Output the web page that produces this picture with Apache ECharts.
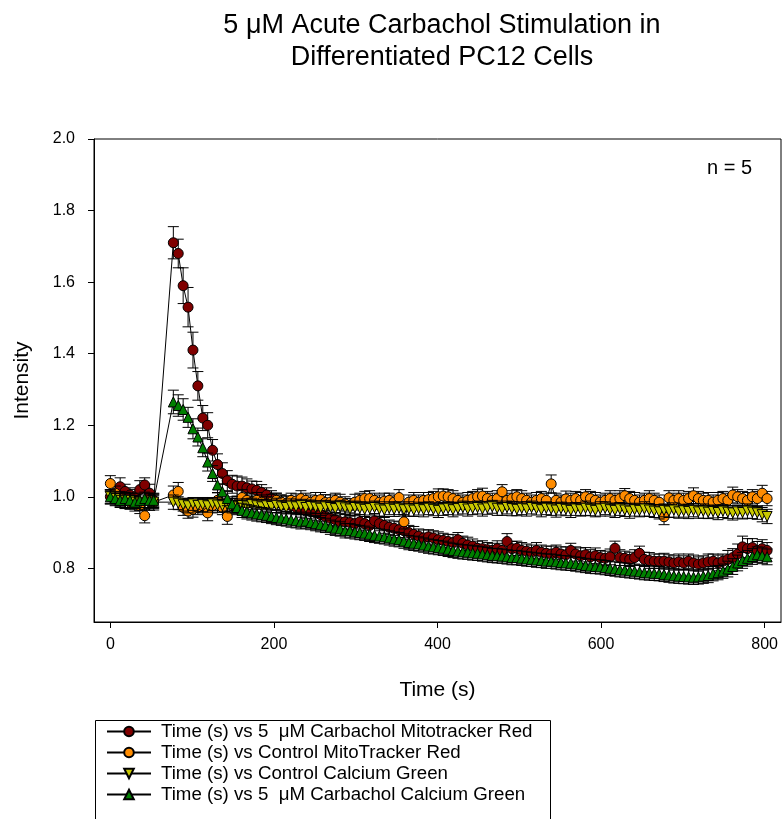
<!DOCTYPE html>
<html>
<head>
<meta charset="utf-8">
<script src="https://cdn.jsdelivr.net/npm/echarts@6/dist/echarts.min.js"></script>
<style>html,body{margin:0;padding:0;background:#fff}#c{width:783px;height:819px}</style>
</head>
<body>
<div id="c"></div>
<script>
// ---- data ----
const times = [0,6,12,18,24,30,36,42,48,53,
77,83,89,95,101,107,113,119,125,131,
137,143,149,155,161,167,173,179,185,191,
197,203,209,215,221,227,233,239,245,251,
257,263,269,275,281,287,293,299,305,311,
317,323,329,335,341,347,353,359,365,371,
377,383,389,395,401,407,413,419,425,431,
437,443,449,455,461,467,473,479,485,491,
497,503,509,515,521,527,533,539,545,551,
557,563,569,575,581,587,593,599,605,611,
617,623,629,635,641,647,653,659,665,671,
677,683,689,695,701,707,713,719,725,731,
737,743,749,755,761,767,773,779,785,791,
797,803];

const carbMito = [1.00,1.01,1.028,1.015,1.005,1.00,1.02,1.033,1.01,0.99,
1.71,1.68,1.59,1.53,1.41,1.31,1.22,1.20,1.13,1.09,
1.065,1.045,1.035,1.03,1.03,1.025,1.022,1.018,1.012,1.005,
0.995,0.99,0.985,0.98,0.975,0.97,0.965,0.96,0.958,0.955,
0.95,0.945,0.94,0.936,0.93,0.93,0.928,0.925,0.93,0.925,
0.92,0.933,0.925,0.92,0.915,0.912,0.908,0.905,0.90,0.895,
0.89,0.885,0.888,0.885,0.88,0.878,0.875,0.872,0.88,0.87,
0.865,0.862,0.856,0.855,0.852,0.85,0.855,0.85,0.875,0.855,
0.856,0.85,0.848,0.845,0.85,0.845,0.842,0.84,0.845,0.84,
0.838,0.85,0.84,0.835,0.838,0.832,0.835,0.83,0.828,0.832,
0.856,0.83,0.828,0.825,0.83,0.842,0.825,0.822,0.82,0.82,
0.82,0.818,0.815,0.818,0.815,0.82,0.815,0.812,0.815,0.818,
0.82,0.815,0.82,0.825,0.83,0.84,0.86,0.855,0.858,0.85,
0.855,0.85];
const carbMitoErr = [0.02,0.02,0.025,0.02,0.02,0.02,0.025,0.02,0.025,0.02,
0.045,0.04,0.05,0.055,0.05,0.04,0.035,0.035,0.03,0.03,
0.03,0.028,0.025,0.028,0.025,0.025,0.022,0.025,0.022,0.02,
0.022,0.02,0.02,0.022,0.02,0.02,0.022,0.02,0.02,0.022,
0.02,0.022,0.02,0.02,0.022,0.02,0.02,0.022,0.02,0.02,
0.022,0.02,0.02,0.022,0.02,0.02,0.022,0.02,0.02,0.022,
0.02,0.022,0.02,0.02,0.022,0.02,0.02,0.022,0.02,0.02,
0.022,0.02,0.02,0.022,0.02,0.02,0.022,0.02,0.022,0.02,
0.02,0.022,0.02,0.02,0.022,0.02,0.02,0.022,0.02,0.02,
0.022,0.02,0.02,0.022,0.02,0.02,0.022,0.02,0.02,0.022,
0.02,0.022,0.02,0.02,0.022,0.02,0.02,0.022,0.02,0.02,
0.022,0.02,0.02,0.022,0.02,0.02,0.022,0.02,0.02,0.022,
0.02,0.022,0.02,0.025,0.025,0.028,0.03,0.028,0.025,0.025,
0.025,0.022];

const ctrlMito = [1.037,1.01,0.995,0.99,0.985,0.98,0.975,0.947,0.99,0.985,
1.005,1.015,0.97,0.96,0.965,0.97,0.975,0.955,0.975,0.99,
0.97,0.945,0.975,0.98,0.998,0.99,0.985,0.99,0.985,0.98,
0.985,0.99,0.985,0.98,0.99,0.988,0.995,0.99,0.985,0.99,
0.992,0.984,0.985,0.99,0.985,0.98,0.975,0.985,0.99,0.995,
0.995,0.99,0.985,0.988,0.99,0.985,0.998,0.93,0.985,0.99,
0.985,0.99,0.992,0.995,1.0,1.002,1.0,0.995,0.99,0.985,
0.99,0.995,1.0,1.002,0.995,0.99,0.995,1.014,0.99,0.995,
1.0,0.995,0.99,0.985,0.99,0.995,0.99,1.036,0.99,0.985,
0.994,0.99,0.995,0.99,1.0,0.995,0.99,0.985,0.99,0.995,
0.99,0.995,1.003,0.995,0.99,0.985,0.99,0.995,0.99,0.985,
0.944,0.997,0.99,0.995,0.99,0.995,1.003,0.995,0.99,0.99,
0.985,0.99,0.995,0.99,1.005,1.0,0.995,0.99,1.0,0.995,
1.01,0.995];
const ctrlMitoErr = [0.022,0.02,0.02,0.022,0.02,0.02,0.022,0.02,0.02,0.022,
0.025,0.025,0.022,0.02,0.022,0.02,0.02,0.022,0.02,0.022,
0.02,0.022,0.02,0.02,0.022,0.02,0.02,0.022,0.02,0.02,
0.022,0.02,0.02,0.022,0.02,0.02,0.022,0.02,0.02,0.022,
0.02,0.022,0.02,0.02,0.022,0.02,0.02,0.022,0.02,0.02,
0.022,0.02,0.02,0.022,0.02,0.02,0.022,0.02,0.02,0.022,
0.02,0.022,0.02,0.02,0.022,0.02,0.02,0.022,0.02,0.02,
0.022,0.02,0.02,0.022,0.02,0.02,0.022,0.02,0.02,0.022,
0.02,0.022,0.02,0.02,0.022,0.02,0.02,0.025,0.02,0.02,
0.022,0.02,0.02,0.022,0.02,0.02,0.022,0.02,0.02,0.022,
0.02,0.022,0.02,0.02,0.022,0.02,0.02,0.022,0.02,0.02,
0.022,0.02,0.02,0.022,0.02,0.02,0.022,0.02,0.02,0.022,
0.02,0.022,0.02,0.02,0.022,0.02,0.02,0.022,0.02,0.02,
0.022,0.02];

const ctrlCalc = [1.0,0.995,0.99,0.985,0.99,0.985,0.98,0.985,0.98,0.985,
0.985,0.982,0.978,0.975,0.98,0.976,0.978,0.975,0.98,0.977,
0.975,0.978,0.975,0.972,0.976,0.974,0.978,0.975,0.972,0.975,
0.973,0.976,0.972,0.97,0.974,0.972,0.975,0.97,0.973,0.971,
0.968,0.972,0.97,0.967,0.972,0.969,0.966,0.97,0.968,0.965,
0.967,0.97,0.966,0.963,0.968,0.965,0.968,0.964,0.966,0.963,
0.967,0.964,0.968,0.965,0.962,0.966,0.968,0.964,0.967,0.97,
0.966,0.968,0.97,0.966,0.969,0.972,0.968,0.966,0.97,0.967,
0.965,0.968,0.966,0.97,0.967,0.964,0.968,0.966,0.963,0.967,
0.965,0.962,0.966,0.964,0.968,0.965,0.962,0.966,0.968,0.964,
0.962,0.966,0.963,0.96,0.964,0.962,0.966,0.963,0.96,0.958,
0.962,0.96,0.963,0.958,0.961,0.959,0.962,0.958,0.96,0.957,
0.959,0.956,0.96,0.957,0.955,0.958,0.956,0.96,0.957,0.955,
0.95,0.945];
const ctrlCalcErr = [0.018,0.02,0.018,0.018,0.02,0.018,0.018,0.02,0.018,0.018,
0.02,0.018,0.018,0.02,0.018,0.018,0.02,0.018,0.018,0.02,
0.018,0.018,0.02,0.018,0.018,0.02,0.018,0.018,0.02,0.018,
0.018,0.02,0.018,0.018,0.02,0.018,0.018,0.02,0.018,0.018,
0.02,0.018,0.018,0.02,0.018,0.018,0.02,0.018,0.018,0.02,
0.018,0.018,0.02,0.018,0.018,0.02,0.018,0.018,0.02,0.018,
0.018,0.02,0.018,0.018,0.02,0.018,0.018,0.02,0.018,0.018,
0.02,0.018,0.018,0.02,0.018,0.018,0.02,0.018,0.018,0.02,
0.018,0.018,0.02,0.018,0.018,0.02,0.018,0.018,0.02,0.018,
0.018,0.02,0.018,0.018,0.02,0.018,0.018,0.02,0.018,0.018,
0.02,0.018,0.018,0.02,0.018,0.018,0.02,0.018,0.018,0.02,
0.018,0.018,0.02,0.018,0.018,0.02,0.018,0.018,0.02,0.018,
0.018,0.02,0.018,0.018,0.02,0.018,0.018,0.02,0.018,0.018,
0.02,0.02];

const carbCalc = [1.0,0.995,0.99,0.995,0.99,0.985,0.99,0.995,0.99,0.99,
1.265,1.255,1.244,1.222,1.19,1.167,1.137,1.097,1.065,1.033,
1.014,0.995,0.98,0.97,0.962,0.958,0.955,0.952,0.95,0.948,
0.945,0.942,0.94,0.938,0.935,0.933,0.93,0.932,0.928,0.925,
0.922,0.92,0.915,0.912,0.91,0.905,0.905,0.902,0.90,0.898,
0.895,0.892,0.89,0.888,0.885,0.882,0.88,0.876,0.872,0.87,
0.868,0.865,0.862,0.86,0.858,0.856,0.853,0.85,0.848,0.846,
0.845,0.843,0.842,0.84,0.838,0.836,0.835,0.834,0.832,0.83,
0.83,0.828,0.826,0.825,0.823,0.822,0.82,0.82,0.818,0.816,
0.815,0.814,0.812,0.81,0.808,0.806,0.805,0.804,0.802,0.80,
0.798,0.796,0.795,0.793,0.792,0.79,0.788,0.787,0.786,0.785,
0.783,0.781,0.779,0.778,0.777,0.776,0.775,0.776,0.778,0.78,
0.785,0.788,0.792,0.798,0.805,0.815,0.822,0.828,0.833,0.838,
0.835,0.832];
const carbCalcErr = [0.02,0.018,0.02,0.018,0.02,0.018,0.02,0.018,0.02,0.018,
0.033,0.03,0.03,0.028,0.028,0.025,0.025,0.025,0.022,0.022,
0.022,0.02,0.02,0.02,0.02,0.02,0.02,0.02,0.02,0.02,
0.02,0.02,0.02,0.02,0.02,0.02,0.02,0.02,0.02,0.02,
0.02,0.02,0.02,0.02,0.02,0.02,0.02,0.02,0.02,0.02,
0.02,0.02,0.02,0.02,0.02,0.02,0.02,0.02,0.02,0.02,
0.02,0.02,0.02,0.02,0.02,0.02,0.02,0.02,0.02,0.02,
0.02,0.02,0.02,0.02,0.02,0.02,0.02,0.02,0.02,0.02,
0.02,0.02,0.02,0.02,0.02,0.02,0.02,0.02,0.02,0.02,
0.02,0.02,0.02,0.02,0.02,0.02,0.02,0.02,0.02,0.02,
0.02,0.02,0.02,0.02,0.02,0.02,0.02,0.02,0.02,0.02,
0.02,0.02,0.02,0.02,0.02,0.02,0.02,0.02,0.02,0.02,
0.02,0.02,0.02,0.022,0.022,0.022,0.022,0.022,0.022,0.022,
0.022,0.022];

const seriesNames = [
  'Time (s) vs 5  \u03bcM Carbachol Mitotracker Red',
  'Time (s) vs Control MitoTracker Red',
  'Time (s) vs Control Calcium Green',
  'Time (s) vs 5  \u03bcM Carbachol Calcium Green'
];
const xTicks = [0, 200, 400, 600, 800];
const yTicks = [0.8, 1.0, 1.2, 1.4, 1.6, 1.8, 2.0];

// ---- chart ----
const FONT = '"Liberation Sans", Arial, sans-serif';
const chart = echarts.init(document.getElementById('c'), null, {renderer: 'canvas'});

const defs = [
  {name: seriesNames[0], vals: carbMito, errs: carbMitoErr, color: '#800000', symbol: 'circle', size: 10, rot: 0},
  {name: seriesNames[1], vals: ctrlMito, errs: ctrlMitoErr, color: '#FF8C00', symbol: 'circle', size: 10, rot: 0},
  {name: seriesNames[2], vals: ctrlCalc, errs: ctrlCalcErr, color: '#C8C800', symbol: 'triangle', size: 10, rot: 180},
  {name: seriesNames[3], vals: carbCalc, errs: carbCalcErr, color: '#008000', symbol: 'triangle', size: 10, rot: 0}
];

function errRender(params, api) {
  const x = api.value(0), y = api.value(1), e = api.value(2);
  const top = api.coord([x, y + e]);
  const bot = api.coord([x, y - e]);
  const hw = 5.5;
  const st = {stroke: '#000', lineWidth: 1};
  return {
    type: 'group',
    children: [
      {type: 'line', shape: {x1: top[0], y1: top[1], x2: bot[0], y2: bot[1]}, style: st},
      {type: 'line', shape: {x1: top[0] - hw, y1: top[1], x2: top[0] + hw, y2: top[1]}, style: st},
      {type: 'line', shape: {x1: bot[0] - hw, y1: bot[1], x2: bot[0] + hw, y2: bot[1]}, style: st}
    ]
  };
}

const series = [];
defs.forEach((d, k) => {
  series.push({
    type: 'custom',
    name: d.name + ' err',
    renderItem: errRender,
    data: times.map((t, i) => [t, d.vals[i], d.errs[i]]),
    z: 2 + k * 2,
    silent: true,
    clip: true
  });
  series.push({
    type: 'line',
    name: d.name,
    data: times.map((t, i) => [t, d.vals[i]]),
    symbol: d.symbol,
    symbolSize: d.size,
    symbolRotate: d.rot,
    showAllSymbol: true,
    itemStyle: {color: d.color, borderColor: '#000', borderWidth: 1},
    lineStyle: {color: '#000', width: 1},
    z: 3 + k * 2,
    silent: true
  });
});

chart.setOption({
  animation: false,
  backgroundColor: '#fff',
  title: {
    text: '5 \u03bcM Acute Carbachol Stimulation in\nDifferentiated PC12 Cells',
    left: 437, textAlign: 'center', top: 5,
    textStyle: {fontFamily: FONT, fontSize: 27, fontWeight: 'normal', color: '#000', lineHeight: 32}
  },
  grid: {left: 94, right: 2, top: 139, bottom: 197, show: true, borderColor: '#000', borderWidth: 1, backgroundColor: 'transparent'},
  xAxis: {
    type: 'value', min: -20, max: 820,
    name: 'Time (s)', nameLocation: 'middle', nameGap: 58,
    nameTextStyle: {fontFamily: FONT, fontSize: 21, color: '#000'},
    axisLine: {show: true, onZero: false, lineStyle: {color: '#000', width: 1}},
    axisTick: {show: true, inside: false, length: 6, lineStyle: {color: '#000'}, customValues: xTicks},
    axisLabel: {fontFamily: FONT, fontSize: 16, color: '#000', margin: 15, customValues: xTicks},
    splitLine: {show: false}
  },
  yAxis: {
    type: 'value', min: 0.65, max: 2.0,
    name: 'Intensity', nameLocation: 'middle', nameGap: 61, nameRotate: 90,
    nameTextStyle: {fontFamily: FONT, fontSize: 21, color: '#000'},
    axisLine: {show: true, onZero: false, lineStyle: {color: '#000', width: 1}},
    axisTick: {show: true, inside: false, length: 6, lineStyle: {color: '#000'}, customValues: yTicks},
    axisLabel: {fontFamily: FONT, fontSize: 16, color: '#000', margin: 19, customValues: yTicks,
      formatter: v => v.toFixed(1)},
    splitLine: {show: false}
  },
  legend: {
    orient: 'vertical', left: 106, top: 722, padding: 0,
    itemWidth: 44, itemHeight: 12, itemGap: 2,
    data: seriesNames,
    textStyle: {fontFamily: FONT, fontSize: 18.7, lineHeight: 18, color: '#000', padding: [0, 0, 0, 5]},
    selectedMode: false
  },
  graphic: [
    {type: 'rect', left: 93, top: 718, shape: {width: 455, height: 100},
      style: {fill: 'none', stroke: '#000', lineWidth: 1}, silent: true},
    {type: 'text', left: 707, top: 158,
      style: {text: 'n = 5', font: '20px "Liberation Sans", Arial, sans-serif', fill: '#000'}}
  ],
  series: series
});
</script>
</body>
</html>
